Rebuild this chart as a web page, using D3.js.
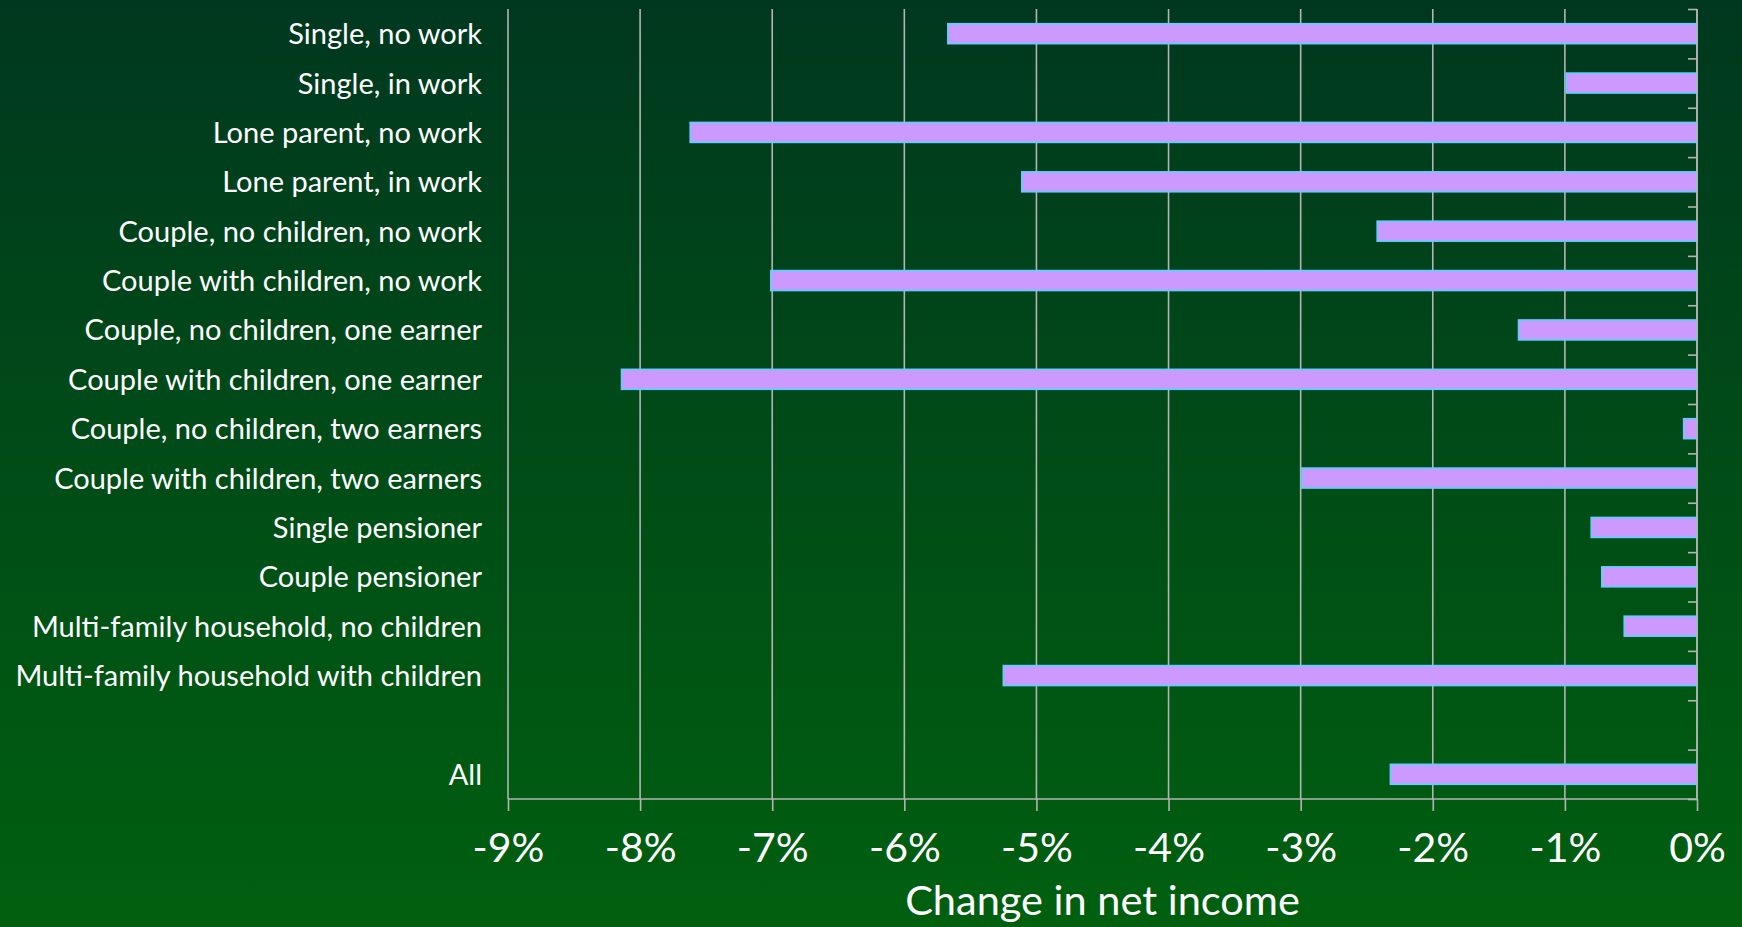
<!doctype html>
<html>
<head>
<style type="text/css">
body { margin: 0; background: #004818; }
text { fill: white; font-family: Lato, "Open Sans", sans-serif; }
.label { font-size: 29px; text-anchor: end; }
.title { font-size: 41.5px; text-anchor: middle; }
</style>
</head>
<body>
<svg width="1742" height="927"></svg>
<script src="https://d3js.org/d3.v7.min.js"></script>
<script>
// household types, top to bottom ("" is the empty gap row)
var categories = ["Single, no work", "Single, in work", "Lone parent, no work", "Lone parent, in work",
  "Couple, no children, no work", "Couple with children, no work", "Couple, no children, one earner",
  "Couple with children, one earner", "Couple, no children, two earners", "Couple with children, two earners",
  "Single pensioner", "Couple pensioner", "Multi-family household, no children",
  "Multi-family household with children", "", "All"];
// change in net income, %
var values = [-5.67, -0.99, -7.62, -5.11, -2.42, -7.01, -1.35, -8.14, -0.1, -2.99,
  -0.8, -0.72, -0.55, -5.25, null, -2.32];
var tickValues = [-9, -8, -7, -6, -5, -4, -3, -2, -1, 0];

var svg = d3.select("svg");
var margin = {top: 9, right: 45, bottom: 128, left: 508},
    W = 1742, H = 927,
    width = W - margin.left - margin.right,
    height = H - margin.top - margin.bottom;

var defs = svg.append("defs");
var grad = defs.append("linearGradient").attr("id", "bg")
  .attr("x1", 0).attr("y1", 0).attr("x2", 0).attr("y2", 1);
grad.append("stop").attr("offset", "0%").attr("stop-color", "#00381f");
grad.append("stop").attr("offset", "100%").attr("stop-color", "#00600f");
svg.append("rect").attr("width", W).attr("height", H).attr("fill", "url(#bg)");

var x = d3.scaleLinear().domain([-9, 0]).range([margin.left, margin.left + width]);
var y = d3.scaleBand().domain(categories).range([margin.top, margin.top + height]);
var yIdx = d3.scaleLinear().domain([0, categories.length]).range([margin.top, margin.top + height]);

var data = categories.map(function(c, i) { return {cat: c, val: values[i]}; });

// vertical gridlines
svg.append("g").selectAll("line").data(tickValues).enter().append("line")
  .attr("x1", function(d) { return x(d); }).attr("x2", function(d) { return x(d); })
  .attr("y1", margin.top).attr("y2", margin.top + height)
  .attr("stroke", "#b4b4b4").attr("stroke-width", 1.6);

// bars
var barH = y.bandwidth() * 0.4;
svg.append("g").selectAll("rect").data(data.filter(function(d) { return d.val != null; }))
  .enter().append("rect")
  .attr("x", function(d) { return x(d.val); })
  .attr("y", function(d) { return y(d.cat) + (y.bandwidth() - barH) / 2; })
  .attr("width", function(d) { return x(0) - x(d.val); })
  .attr("height", barH)
  .attr("fill", "#cc99ff")
  .attr("stroke", "#66ccff")
  .attr("stroke-width", 1.8);

// category labels
svg.append("g").selectAll("text").data(data).enter().append("text")
  .attr("class", "label")
  .attr("x", 482)
  .attr("y", function(d) { return y(d.cat) + y.bandwidth() / 2; })
  .attr("dy", "0.36em")
  .text(function(d) { return d.cat; });

// right axis with inward ticks at band boundaries
var rAxis = svg.append("g")
  .attr("transform", "translate(" + x(0) + ",0)")
  .call(d3.axisLeft(yIdx).ticks(categories.length).tickSize(9).tickFormat(""));
rAxis.selectAll("line, path").attr("stroke", "#b4b4b4").attr("stroke-width", 1.6);
rAxis.select(".domain").attr("d", "M0," + margin.top + "V" + (margin.top + height));

// bottom axis
var bAxis = svg.append("g")
  .attr("transform", "translate(0," + (margin.top + height) + ")")
  .call(d3.axisBottom(x).tickValues(tickValues).tickSize(12)
    .tickFormat(function(d) { return d + "%"; }));
bAxis.selectAll("line, path").attr("stroke", "#b4b4b4").attr("stroke-width", 1.6);
bAxis.select(".domain").attr("d", "M" + x(-9) + ",0H" + x(0));
bAxis.selectAll("text")
  .attr("y", 63).attr("dy", null)
  .attr("font-family", "Lato, 'Open Sans', sans-serif").attr("font-size", 41).attr("fill", "white");

svg.append("text").attr("class", "title")
  .attr("x", (x(-9) + x(0)) / 2).attr("y", 915)
  .text("Change in net income");
</script>
</body>
</html>
